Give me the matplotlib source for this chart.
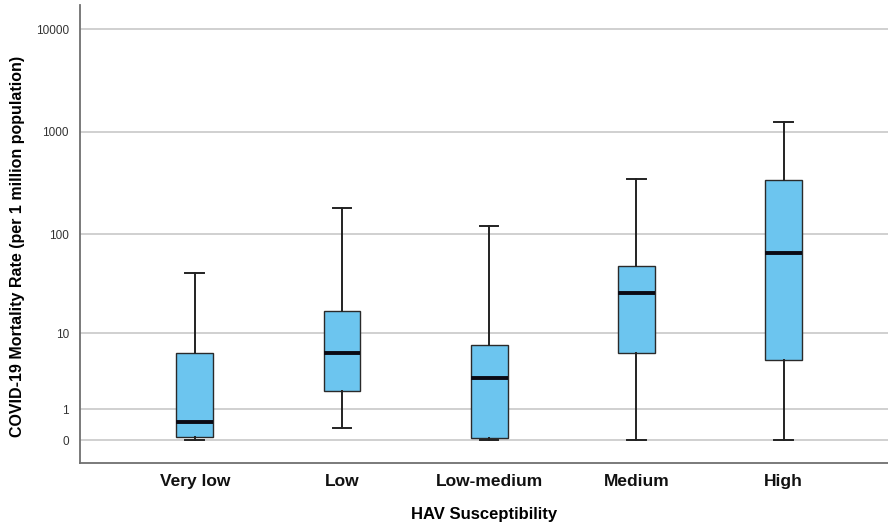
import numpy as np
import matplotlib
matplotlib.use("Agg")
import matplotlib.pyplot as plt

plt.rcParams['font.family'] = ['Liberation Sans', 'DejaVu Sans']

# box summaries (mortality per 1 million)
categories = ['Very low', 'Low', 'Low-medium', 'Medium', 'High']
whisker_low = [0.0, 0.31, 0.0, 0.0, 0.0]
q1 = [0.08, 2.0, 0.05, 6.0, 5.0]
median = [0.5, 6.0, 3.0, 26.0, 66.0]
q3 = [6.0, 17.0, 7.5, 49.0, 340.0]
whisker_high = [41.7, 181.0, 120.0, 350.0, 1240.0]
yticks = [0, 1, 10, 100, 1000, 10000]


def fwd(x):
    return np.log10(np.clip(x, -0.99, None) + 1)


def inv(y):
    return 10 ** y - 1


stats = []
for i, name in enumerate(categories):
    stats.append({'label': name, 'whislo': whisker_low[i], 'q1': q1[i],
                  'med': median[i], 'q3': q3[i], 'whishi': whisker_high[i],
                  'fliers': []})

fig = plt.figure(figsize=(8.88, 5.29), dpi=100)
ax = fig.add_axes([80 / 888, 1 - 463 / 529, 808 / 888, 458 / 529])
ax.set_yscale('function', functions=(fwd, inv))

for v in yticks:
    ax.axhline(v, color='#c8c8c8', lw=1.2, zorder=0)

ax.bxp(stats, positions=range(len(categories)), widths=0.25,
       patch_artist=True, showfliers=False, capwidths=0.127,
       boxprops=dict(facecolor='#6cc5ef', edgecolor='#2a2a2a', lw=1.0),
       medianprops=dict(color='#0a0a14', lw=2.8),
       whiskerprops=dict(color='#222222', lw=1.4),
       capprops=dict(color='#222222', lw=1.4))

ax.set_xlim(-0.78, 4.71)
ax.set_ylim(-0.399, 10 ** 4.234 - 1)
ax.set_yticks(yticks)
ax.set_yticklabels([str(v) for v in yticks], fontsize=8.5, color='#333333')
ax.minorticks_off()
ax.set_xticks(range(len(categories)))
ax.set_xticklabels(categories, fontsize=12.5, fontweight='bold', color='#111111')
ax.tick_params(length=0)
ax.tick_params(axis='x', pad=8)
ax.tick_params(axis='y', pad=8)

for s in ['top', 'right']:
    ax.spines[s].set_visible(False)
for s in ['left', 'bottom']:
    ax.spines[s].set_color('#707070')
    ax.spines[s].set_linewidth(1.3)

ax.set_xlabel('HAV Susceptibility', fontsize=12, fontweight='bold', labelpad=13)
ax.set_ylabel('COVID-19 Mortality Rate (per 1 million population)',
              fontsize=11.5, fontweight='bold')
ax.yaxis.set_label_coords(-0.068, 0.472)

fig.savefig('out.png', dpi=100)
